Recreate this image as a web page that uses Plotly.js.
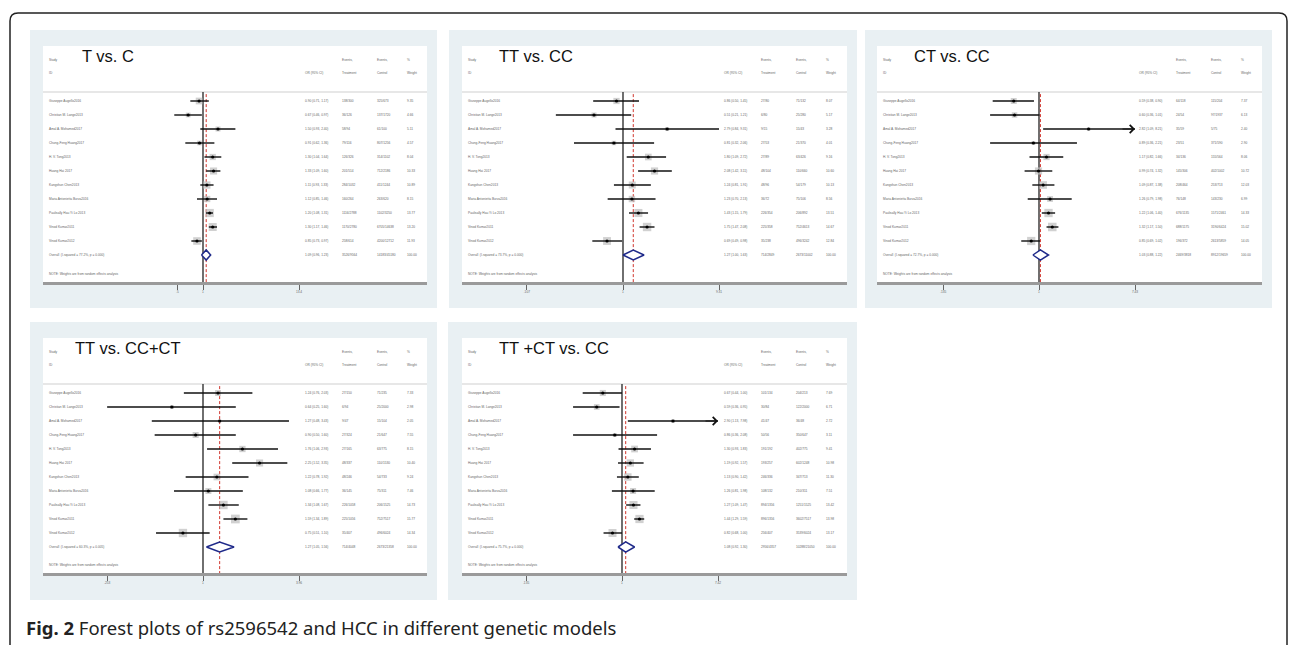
<!DOCTYPE html>
<html><head><meta charset="utf-8">
<script src="https://cdn.plot.ly/plotly-3.0.1.min.js"></script>
<style>html,body{margin:0;padding:0;background:#fff}#chart{width:1292px;height:645px}</style>
</head><body><div id="chart"></div>
<script>
const W = 1292, H = 645;

// ---------------- DATA ----------------
const studies = ["Giuseppe Augello2016", "Christian M. Lange2013", "Amal A. Mohamed2017", "Chung-Feng Huang2017",
  "H. V. Tong2013", "Huang Hai 2017", "Kangshun Chen2013", "Maria Antonietta Burza2016",
  "Paulisally Hau Yi Lo 2013", "Vinod Kumar2011", "Vinod Kumar2012"];

// Panel titles
const panelTitles = ["T vs. C", "TT vs. CC", "CT vs. CC", "TT vs. CC+CT", "TT +CT vs. CC"];

// T vs. C
const tcOR = [0.90, 0.67, 1.50, 0.91, 1.30, 1.33, 1.11, 1.12, 1.20, 1.30, 0.85];
const tcLo = [0.71, 0.46, 0.93, 0.62, 1.04, 1.09, 0.93, 0.85, 1.08, 1.17, 0.73];
const tcHi = [1.17, 0.97, 2.40, 1.36, 1.64, 1.60, 1.33, 1.46, 1.31, 1.46, 0.97];
const tcW  = [9.35, 4.66, 5.11, 4.57, 8.04, 10.33, 10.89, 8.15, 13.77, 13.20, 11.93];
const tcEvT = ["138/300", "36/126", "58/94", "79/116", "126/326", "201/514", "284/1032", "160/264", "1116/2788", "1170/2780", "258/614"];
const tcEvC = ["325/673", "137/1720", "61/100", "807/1256", "314/1102", "712/2186", "411/1244", "263/620", "1102/3250", "6705/14638", "4200/12712"];
const tcOverall = [1.09, 0.96, 1.23];
const tcOverallEv = ["3526/9564", "14183/45180"];
const tcI2 = "77.2%", tcP = "0.000";
const tcTicks = [0.5, 1, 13.4], tcTickText = [".5", "1", "13.4"];

// TT vs. CC
const ttOR = [0.86, 0.51, 2.79, 0.81, 1.80, 2.08, 1.24, 1.23, 1.43, 1.75, 0.69];
const ttLo = [0.50, 0.21, 0.84, 0.32, 1.09, 1.42, 0.81, 0.70, 1.15, 1.47, 0.49];
const ttHi = [1.45, 1.21, 9.31, 2.06, 2.72, 3.11, 1.91, 2.13, 1.79, 2.08, 0.98];
const ttW  = [8.07, 5.17, 3.28, 4.01, 9.16, 10.60, 10.13, 8.56, 13.51, 14.67, 12.84];
const ttEvT = ["27/80", "6/80", "9/15", "27/53", "27/89", "48/104", "48/96", "36/72", "226/354", "225/358", "35/238"];
const ttEvC = ["71/132", "25/280", "15/43", "21/370", "63/426", "110/660", "54/179", "75/106", "206/892", "752/4613", "496/3242"];
const ttOverall = [1.27, 1.00, 1.63];
const ttOverallEv = ["714/2849", "2673/11002"];
const ttI2 = "73.7%", ttP = "0.000";
const ttTicks = [0.107, 1, 9.31], ttTickText = [".107", "1", "9.31"];

// CT vs. CC
const ctOR = [0.59, 0.60, 2.82, 0.89, 1.17, 0.99, 1.09, 1.26, 1.22, 1.32, 0.85];
const ctLo = [0.38, 0.36, 1.09, 0.36, 0.82, 0.74, 0.87, 0.79, 1.06, 1.17, 0.69];
const ctHi = [0.90, 1.01, 8.21, 2.21, 1.66, 1.32, 1.38, 1.98, 1.40, 1.50, 1.02];
const ctW  = [7.37, 6.13, 2.40, 2.90, 8.06, 10.72, 12.03, 6.99, 14.33, 15.02, 14.05];
const ctEvT = ["64/118", "24/54", "35/59", "23/51", "34/136", "145/306", "208/464", "76/148", "676/1135", "688/1175", "196/372"];
const ctEvC = ["115/204", "97/1937", "5/75", "371/590", "155/564", "402/1002", "253/713", "143/230", "1571/2461", "3190/6424", "2613/5859"];
const ctOverall = [1.03, 0.88, 1.22];
const ctOverallEv = ["2469/3818", "8912/19659"];
const ctI2 = "72.7%", ctP = "0.000";
const ctTicks = [0.135, 1, 7.43], ctTickText = [".135", "1", "7.43"];

// TT vs. CC+CT
const tcctOR = [1.24, 0.64, 1.27, 0.90, 1.76, 2.25, 1.22, 1.08, 1.34, 1.59, 0.75];
const tcctLo = [0.76, 0.253, 0.48, 0.50, 1.06, 1.52, 0.78, 0.66, 1.08, 1.34, 0.51];
const tcctHi = [2.03, 1.60, 3.43, 1.60, 2.93, 3.35, 1.92, 1.77, 1.67, 1.89, 1.10];
const tcctW  = [7.33, 2.98, 2.05, 7.55, 8.15, 10.40, 9.24, 7.46, 14.73, 15.77, 14.34];
const tcctEvT = ["27/150", "6/94", "9/47", "27/324", "27/165", "48/337", "48/246", "36/145", "226/1058", "225/1056", "35/407"];
const tcctEvC = ["71/235", "25/2000", "15/104", "21/647", "63/775", "110/1530", "54/733", "75/311", "206/1525", "752/7517", "496/6024"];
const tcctOverall = [1.27, 1.05, 1.56];
const tcctOverallEv = ["714/4048", "2673/21358"];
const tcctI2 = "60.3%", tcctP = "0.005";
const tcctTicks = [0.253, 1, 3.96], tcctTickText = [".253", "1", "3.96"];

// TT+CT vs. CC
const tctOR = [0.67, 0.59, 2.90, 0.86, 1.30, 1.19, 1.13, 1.26, 1.27, 1.44, 0.82];
const tctLo = [0.44, 0.36, 1.13, 0.36, 0.93, 0.92, 0.90, 0.81, 1.09, 1.29, 0.68];
const tctHi = [1.00, 0.95, 7.98, 2.08, 1.83, 1.57, 1.42, 1.98, 1.47, 1.59, 1.00];
const tctW  = [7.69, 6.71, 2.72, 3.11, 9.41, 10.98, 11.30, 7.51, 13.42, 13.98, 13.17];
const tctEvT = ["101/134", "30/84", "41/47", "50/56", "191/192", "193/257", "246/336", "108/132", "894/1356", "896/1356", "256/407"];
const tctEvC = ["204/213", "122/2000", "36/48", "350/647", "402/775", "602/1248", "347/713", "210/311", "1251/1525", "3602/7517", "3539/6024"];
const tctOverall = [1.08, 0.92, 1.30];
const tctOverallEv = ["2956/4357", "10288/21050"];
const tctI2 = "75.7%", tctP = "0.000";
const tctTicks = [0.135, 1, 7.42], tctTickText = [".135", "1", "7.42"];

const caption = "Forest plots of rs2596542 and HCC in different genetic models";

// ---------------- LAYOUT CONFIG (positions in px) ----------------
const panels = [
  {title: panelTitles[0], or: tcOR, lo: tcLo, hi: tcHi, w: tcW, evT: tcEvT, evC: tcEvC, ov: tcOverall, ovEv: tcOverallEv, i2: tcI2, p: tcP, ticks: tcTicks, tickText: tcTickText,
   bg: [30, 30, 437, 308], wh: [43, 46, 427, 282], N: 203, s: 37, tx: 37},
  {title: panelTitles[1], or: ttOR, lo: ttLo, hi: ttHi, w: ttW, evT: ttEvT, evC: ttEvC, ov: ttOverall, ovEv: ttOverallEv, i2: ttI2, p: ttP, ticks: ttTicks, tickText: ttTickText,
   bg: [449, 30, 857, 308], wh: [462, 46, 847, 282], N: 623, s: 0, tx: 35},
  {title: panelTitles[2], or: ctOR, lo: ctLo, hi: ctHi, w: ctW, evT: ctEvT, evC: ctEvC, ov: ctOverall, ovEv: ctOverallEv, i2: ctI2, p: ctP, ticks: ctTicks, tickText: ctTickText,
   bg: [865, 30, 1272, 308], wh: [877, 46, 1262, 282], N: 1039, s: 0, tx: 35},
  {title: panelTitles[3], or: tcctOR, lo: tcctLo, hi: tcctHi, w: tcctW, evT: tcctEvT, evC: tcctEvC, ov: tcctOverall, ovEv: tcctOverallEv, i2: tcctI2, p: tcctP, ticks: tcctTicks, tickText: tcctTickText,
   bg: [30, 322, 437, 600], wh: [43, 338, 427, 573], N: 203, s: 0, tx: 30},
  {title: panelTitles[4], or: tctOR, lo: tctLo, hi: tctHi, w: tctW, evT: tctEvT, evC: tctEvC, ov: tctOverall, ovEv: tctOverallEv, i2: tctI2, p: tctP, ticks: tctTicks, tickText: tctTickText,
   bg: [448, 322, 857, 600], wh: [462, 338, 847, 573], N: 622, s: 0, tx: 35}
];
const ROWSTEP = 14, ROW1 = 55, SEP = 46, TICKPX = 96;

const px = x => x / W;
const py = y => 1 - y / H;
const f2 = v => v.toFixed(2);

const traces = [], annotations = [], shapes = [];
const layout = {
  width: W, height: H, margin: {l: 0, r: 0, t: 0, b: 0},
  paper_bgcolor: '#ffffff', plot_bgcolor: 'rgba(0,0,0,0)', showlegend: false,
  font: {family: 'Liberation Sans, Arial, sans-serif', color: '#444'}
};

// outer frame
const fr = [10, 13, 1287, 645], r = 8;
shapes.push({type: 'path', xref: 'paper', yref: 'paper', layer: 'below',
  path: `M ${px(fr[0])},${py(fr[3])} L ${px(fr[0])},${py(fr[1] + r)} Q ${px(fr[0])},${py(fr[1])} ${px(fr[0] + r)},${py(fr[1])} L ${px(fr[2] - r)},${py(fr[1])} Q ${px(fr[2])},${py(fr[1])} ${px(fr[2])},${py(fr[1] + r)} L ${px(fr[2])},${py(fr[3])}`,
  line: {color: '#222', width: 1.5}});

const tinyFont = {size: 3.2, color: '#666', family: 'Liberation Sans, Arial, sans-serif'};

panels.forEach((P, k) => {
  const sfx = k === 0 ? '' : String(k + 1);
  const xa = 'x' + sfx, ya = 'y' + sfx;
  const [L, T, R, B] = P.wh;
  const s = P.s || TICKPX / Math.log(P.ticks[2]);
  const rowTopPx = T + ROW1;
  const yTopVal = 1 - (rowTopPx - T) / ROWSTEP;
  const yBotVal = 1 + (B - rowTopPx) / ROWSTEP;
  const sepVal = 1 - (rowTopPx - (T + SEP)) / ROWSTEP;

  layout['xaxis' + sfx] = {
    type: 'log', domain: [px(L), px(R)], anchor: ya,
    range: [(L - P.N) / s / Math.LN10, (R - P.N) / s / Math.LN10],
    showgrid: false, zeroline: false, showline: true, linecolor: '#9a9a9a', linewidth: 2.5,
    ticks: 'outside', ticklen: 5, tickwidth: 1, tickcolor: '#666',
    tickvals: P.ticks, ticktext: P.tickText, tickfont: {size: 3.2, color: '#666'}, fixedrange: true
  };
  layout['yaxis' + sfx] = {
    domain: [py(B), py(T)], anchor: xa, range: [yBotVal, yTopVal],
    visible: false, fixedrange: true
  };

  // backgrounds
  shapes.push({type: 'rect', xref: 'paper', yref: 'paper', layer: 'below',
    x0: px(P.bg[0]), x1: px(P.bg[2]), y0: py(P.bg[3]), y1: py(P.bg[1]),
    fillcolor: '#e9f0f3', line: {width: 0}});
  shapes.push({type: 'rect', xref: 'paper', yref: 'paper', layer: 'below',
    x0: px(L), x1: px(R), y0: py(B), y1: py(T),
    fillcolor: '#ffffff', line: {width: 0}});
  // header separator
  shapes.push({type: 'line', xref: 'paper', yref: 'paper', layer: 'below',
    x0: px(L), x1: px(R), y0: py(T + SEP), y1: py(T + SEP),
    line: {color: '#cfcfcf', width: 1}});

  const n = P.or.length;
  const clip = P.ticks[2];
  const rows = P.or.map((_, i) => i + 1);
  const ovRow = n + 1;

  // null line and overall dashed line
  traces.push({type: 'scatter', mode: 'lines', xaxis: xa, yaxis: ya, hoverinfo: 'skip',
    x: [1, 1], y: [sepVal, yBotVal], line: {color: '#333', width: 1.4}});
  traces.push({type: 'scatter', mode: 'lines', xaxis: xa, yaxis: ya, hoverinfo: 'skip',
    x: [P.ov[0], P.ov[0]], y: [sepVal + 0.15, yBotVal], line: {color: '#d0342c', width: 1, dash: '3px,2px'}});

  // weight boxes
  traces.push({type: 'scatter', mode: 'markers', xaxis: xa, yaxis: ya, hoverinfo: 'skip',
    x: P.or, y: rows,
    marker: {symbol: 'square', color: '#bdbdbd', size: P.w.map(v => 2.2 * Math.sqrt(v)), line: {width: 0}}});
  // CI lines
  const cx = [], cy = [];
  P.or.forEach((_, i) => { cx.push(P.lo[i], Math.min(P.hi[i], clip), null); cy.push(i + 1, i + 1, null); });
  traces.push({type: 'scatter', mode: 'lines', xaxis: xa, yaxis: ya, hoverinfo: 'skip',
    x: cx, y: cy, line: {color: '#111', width: 1.4}});
  // point estimates
  traces.push({type: 'scatter', mode: 'markers', xaxis: xa, yaxis: ya, hoverinfo: 'skip',
    x: P.or, y: rows, marker: {symbol: 'circle', color: '#000', size: 3.2}});
  // overall diamond
  traces.push({type: 'scatter', mode: 'lines', xaxis: xa, yaxis: ya, hoverinfo: 'skip',
    x: [P.ov[1], P.ov[0], P.ov[2], P.ov[0], P.ov[1]],
    y: [ovRow, ovRow - 0.36, ovRow, ovRow + 0.36, ovRow],
    fill: 'toself', fillcolor: '#ffffff', line: {color: '#1f2a8a', width: 1.5}});

  // arrows for clipped CIs
  P.hi.forEach((h, i) => {
    if (h > clip) annotations.push({xref: xa, yref: ya, x: Math.log10(clip), y: i + 1, ax: -14, ay: 0,
      showarrow: true, arrowhead: 4, arrowsize: 1.3, arrowwidth: 1.2, arrowcolor: '#111', text: '', standoff: 0});
  });

  // title
  annotations.push({xref: 'paper', yref: 'paper', x: px(L + P.tx), y: py(T + 10), xanchor: 'left', yanchor: 'middle',
    text: P.title, showarrow: false, font: {size: 16.5, color: '#111', family: 'Liberation Sans, Arial, sans-serif'}});

  // headers
  const colX = {lab: L + 4, or: L + 260, t: L + 297, c: L + 332, w: L + 362};
  const hdr = (x, y, t) => annotations.push({xref: 'paper', yref: 'paper', x: px(x), y: py(y), xanchor: 'left', yanchor: 'middle', text: t, showarrow: false, font: tinyFont});
  hdr(colX.lab, T + 14, 'Study'); hdr(colX.lab, T + 27, 'ID');
  hdr(colX.or, T + 27, 'OR (95% CI)');
  hdr(colX.t, T + 14, 'Events,'); hdr(colX.t, T + 27, 'Treatment');
  hdr(colX.c, T + 14, 'Events,'); hdr(colX.c, T + 27, 'Control');
  hdr(colX.w, T + 14, '%'); hdr(colX.w, T + 27, 'Weight');

  // rows
  const cell = (x, row, t) => annotations.push({xref: 'paper', yref: ya, x: px(x), y: row, xanchor: 'left', yanchor: 'middle', text: t, showarrow: false, font: tinyFont});
  studies.forEach((st, i) => {
    cell(colX.lab, i + 1, st);
    cell(colX.or, i + 1, `${f2(P.or[i])} (${f2(P.lo[i])}, ${f2(P.hi[i])})`);
    cell(colX.t, i + 1, P.evT[i]);
    cell(colX.c, i + 1, P.evC[i]);
    cell(colX.w, i + 1, f2(P.w[i]));
  });
  const wsum = P.w.reduce((a, b) => a + b, 0);
  cell(colX.lab, ovRow, `Overall  (I-squared = ${P.i2}, p = ${P.p})`);
  cell(colX.or, ovRow, `${f2(P.ov[0])} (${f2(P.ov[1])}, ${f2(P.ov[2])})`);
  cell(colX.t, ovRow, P.ovEv[0]);
  cell(colX.c, ovRow, P.ovEv[1]);
  cell(colX.w, ovRow, f2(Math.round(wsum)));
  hdr(colX.lab, B - 8, 'NOTE: Weights are from random effects analysis');
});

// caption
annotations.push({xref: 'paper', yref: 'paper', x: px(24), y: py(627), xanchor: 'left', yanchor: 'middle', showarrow: false,
  text: '<b>Fig. 2</b> ' + caption, font: {size: 18.5, color: '#222', family: 'Noto Sans, Open Sans, sans-serif'}});

layout.shapes = shapes;
layout.annotations = annotations;
Plotly.newPlot('chart', traces, layout, {staticPlot: true, displayModeBar: false});
</script>
</body></html>
